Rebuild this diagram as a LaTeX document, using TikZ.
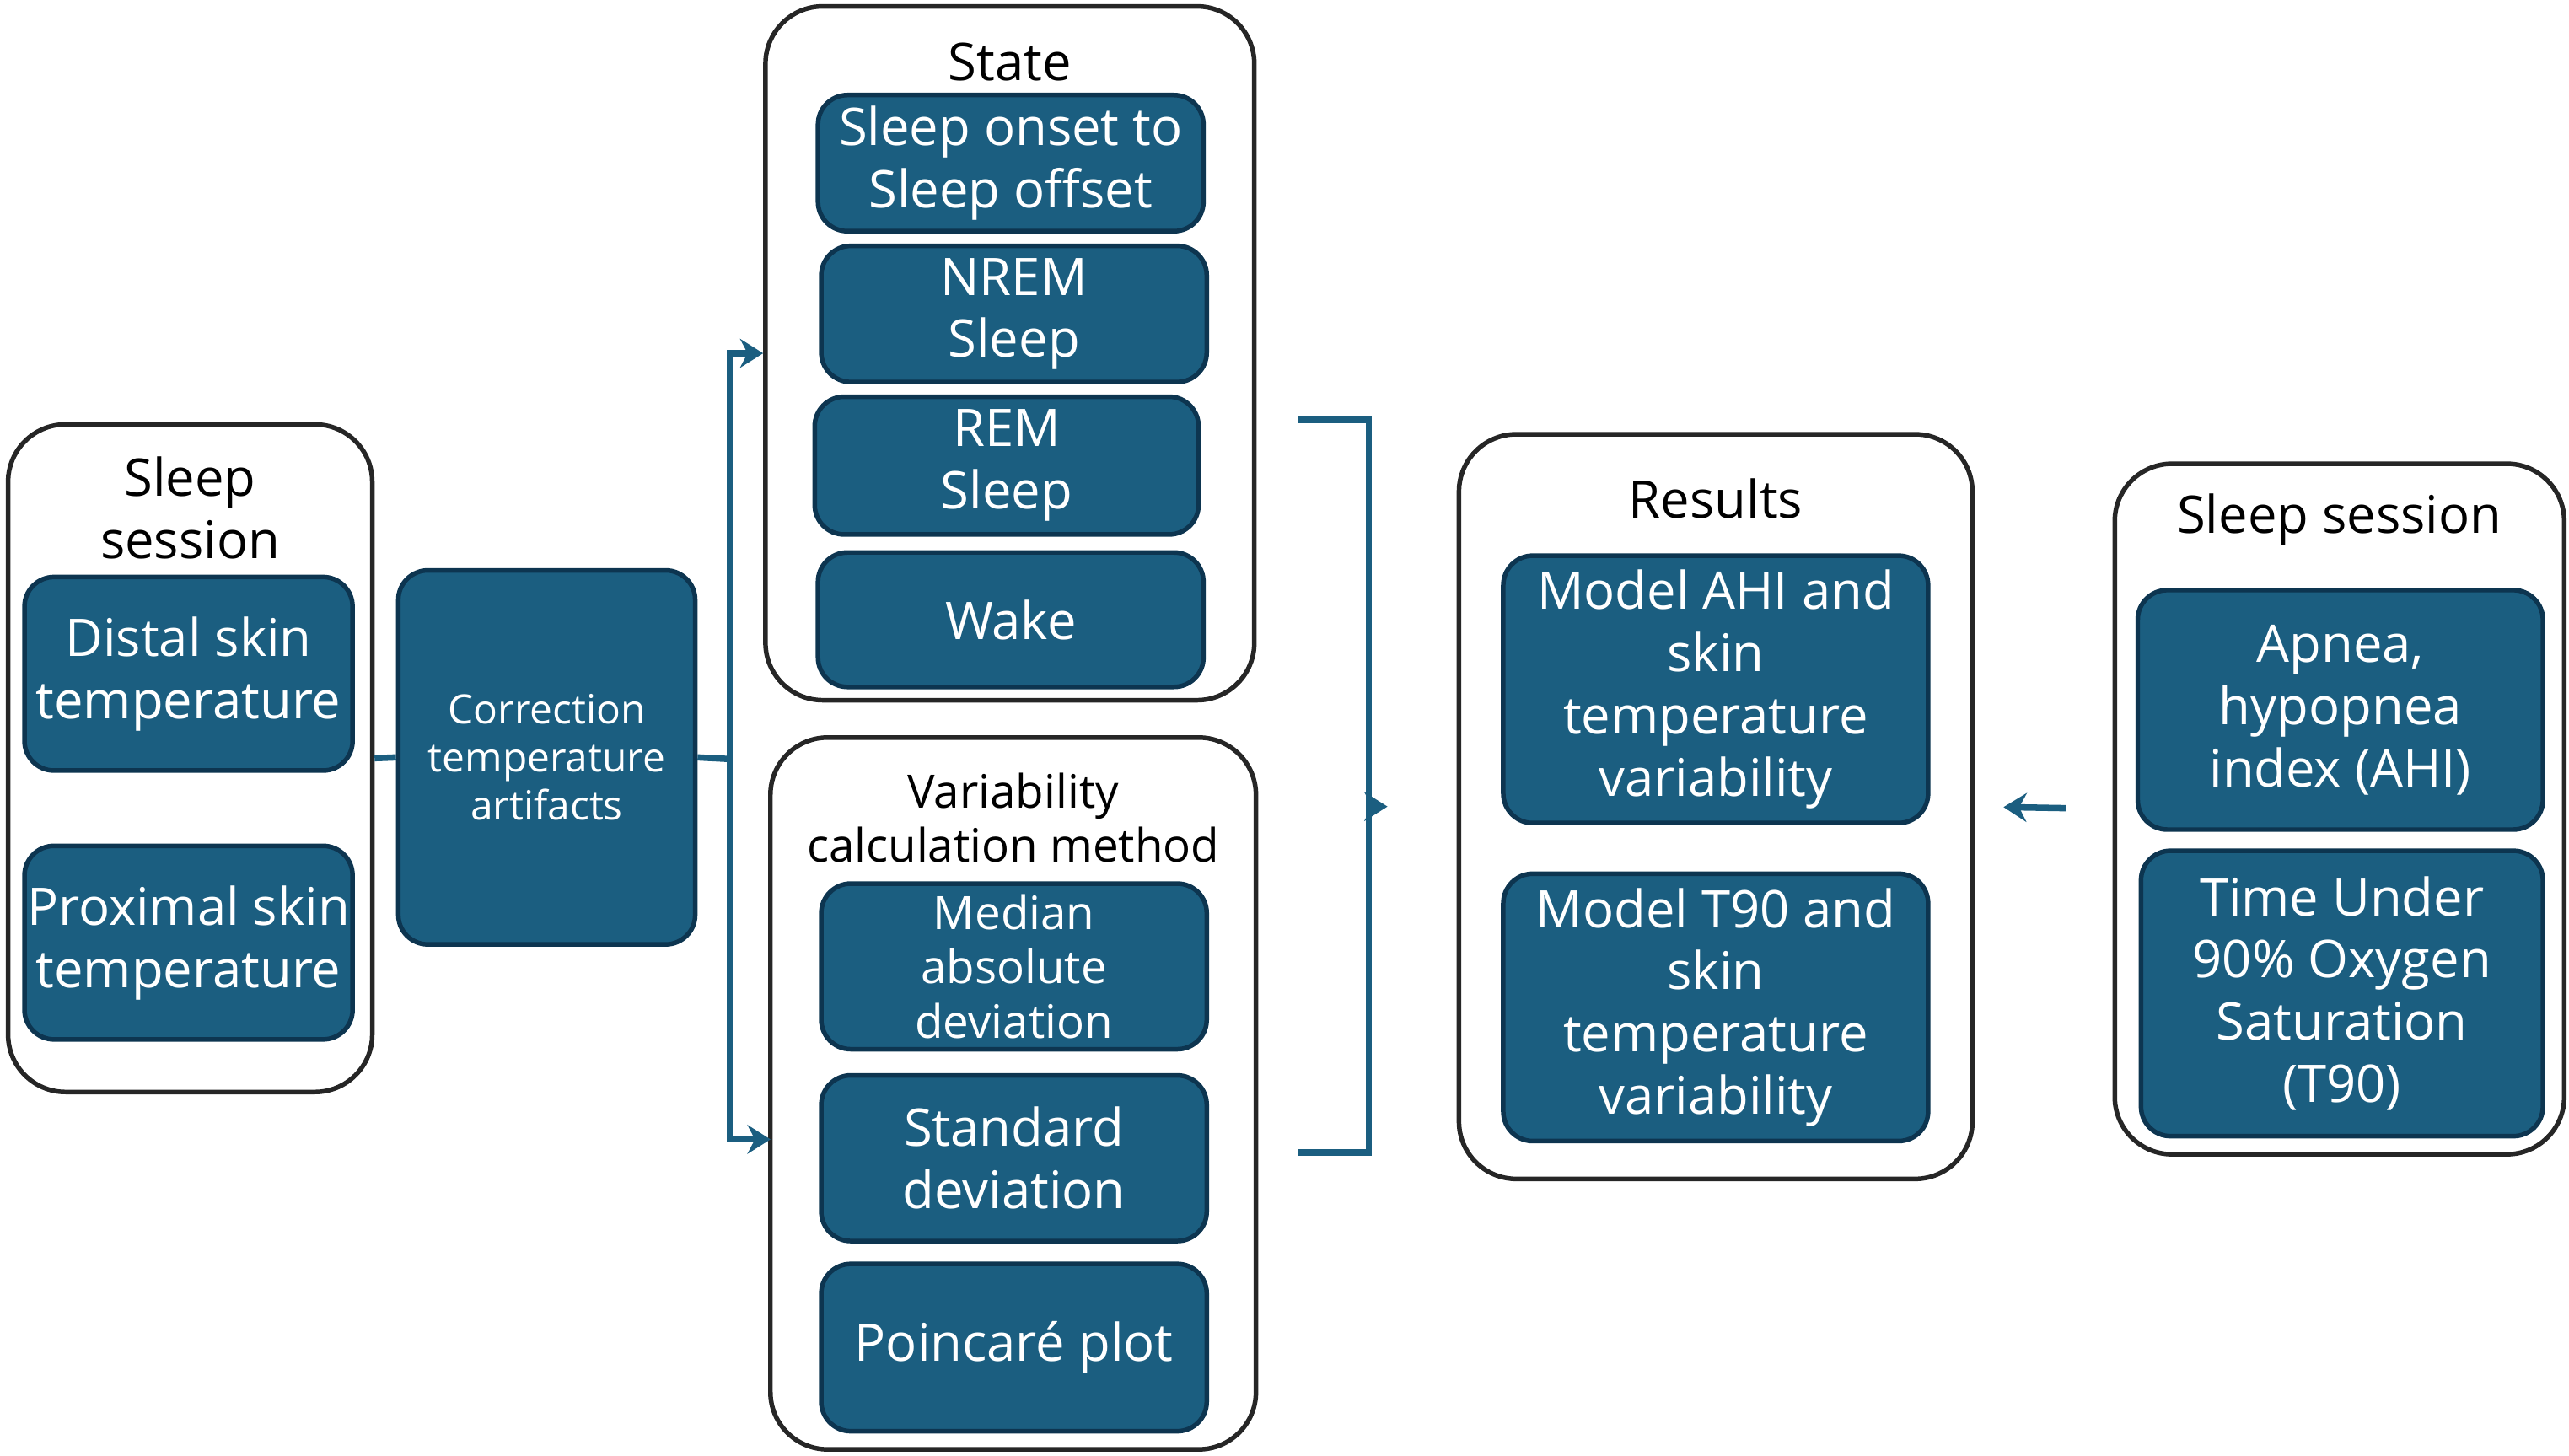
\documentclass[tikz,border=0pt]{standalone}
\usepackage{fontspec}
\setmainfont{Open Sans}
\usetikzlibrary{arrows.meta}
\definecolor{bfill}{HTML}{1B5E80}
\definecolor{bdraw}{HTML}{0D3550}
\begin{document}
\begin{tikzpicture}[x=0.01cm,y=-0.01cm,
  box/.style={draw=bdraw,line width=0.8pt,fill=bfill,rounded corners=0.18cm,text=white,align=center,inner sep=0pt,font=\fontsize{9}{10.8}\selectfont},
  cont/.style={draw=black!85,line width=0.8pt,rounded corners=0.35cm,inner sep=0pt},
  ttl/.style={align=center,font=\fontsize{9}{10.8}\selectfont},
  arr/.style={draw=bfill,line width=1.1pt,-{Stealth[length=4pt,width=5pt]}},
  ln/.style={draw=bfill,line width=1.1pt}]
\useasboundingbox (0,0) rectangle (1567,888);
% left
\node[cont,minimum width=2.22cm,minimum height=4.07cm] (L) at (116,462.5) {};
\node[ttl] (Lt) at (116,310) {Sleep\\session};
\node[box,minimum width=2.0cm,minimum height=1.18cm] (L1) at (115,411) {Distal skin\\temperature};
\node[box,minimum width=2.0cm,minimum height=1.18cm] (L2) at (115,575) {Proximal skin\\temperature};
\node[box,minimum width=1.81cm,minimum height=2.28cm,font=\fontsize{7}{8.3}\selectfont] (C) at (333.5,462) {Correction\\temperature\\artifacts};
% state
\node[cont,minimum width=2.98cm,minimum height=4.23cm] (S) at (616,215.5) {};
\node[ttl] (St) at (616,38) {State};
\node[box,minimum width=2.35cm,minimum height=0.83cm] (S1) at (616.5,99.5) {Sleep onset to\\Sleep offset};
\node[box,minimum width=2.35cm,minimum height=0.83cm] (S2) at (618.5,191.5) {NREM\\Sleep};
\node[box,minimum width=2.34cm,minimum height=0.84cm] (S3) at (614,284) {REM\\Sleep};
\node[box,minimum width=2.35cm,minimum height=0.82cm] (S4) at (616.5,378) {Wake};
% variability
\node[cont,minimum width=2.96cm,minimum height=4.34cm] (V) at (618,667) {};
\node[ttl,font=\fontsize{8}{9.4}\selectfont] (Vt) at (618,499) {Variability\\calculation method};
\node[box,minimum width=2.35cm,minimum height=1.01cm,font=\fontsize{8}{9.4}\selectfont] (V1) at (618.5,589.5) {Median\\absolute\\deviation};
\node[box,minimum width=2.35cm,minimum height=1.01cm] (V2) at (618.5,706.5) {Standard\\deviation};
\node[box,minimum width=2.35cm,minimum height=1.02cm] (V3) at (618.5,822) {Poincaré plot};
% results
\node[cont,minimum width=3.13cm,minimum height=4.54cm] (R) at (1046.5,492) {};
\node[ttl] (Rt) at (1046.5,304) {Results};
\node[box,minimum width=2.59cm,minimum height=1.63cm] (R1) at (1046.5,420.5) {Model AHI and\\skin\\temperature\\variability};
\node[box,minimum width=2.59cm,minimum height=1.63cm] (R2) at (1046.5,614.5) {Model T90 and\\skin\\temperature\\variability};
% right
\node[cont,minimum width=2.74cm,minimum height=4.21cm] (A) at (1427,493.5) {};
\node[ttl] (At) at (1427,317) {Sleep session};
\node[box,minimum width=2.47cm,minimum height=1.46cm] (A1) at (1427.5,433) {Apnea,\\hypopnea\\index (AHI)};
\node[box,minimum width=2.45cm,minimum height=1.74cm] (A2) at (1428.5,606) {Time Under\\90\% Oxygen\\Saturation\\(T90)};
% connectors
\coordinate (j) at (445,463);
\coordinate (va) at (470,695);
\draw[ln] (L.east) -- (C.west);
\draw[ln] (C.east) -- (j);
\draw[arr] (j) |- (S.west);
\draw[arr] (j) |- (va);
\coordinate (b1) at (792,256);
\coordinate (b2) at (792,703);
\coordinate (bm) at (835,492);
\draw[ln] (b1) -| (bm) |- (b2);
\draw[arr,shorten >=12pt] (bm) -- (R.west);
\draw[arr,shorten <=8pt,shorten >=5pt] (A.west) -- (R.east);
\end{tikzpicture}
\end{document}
